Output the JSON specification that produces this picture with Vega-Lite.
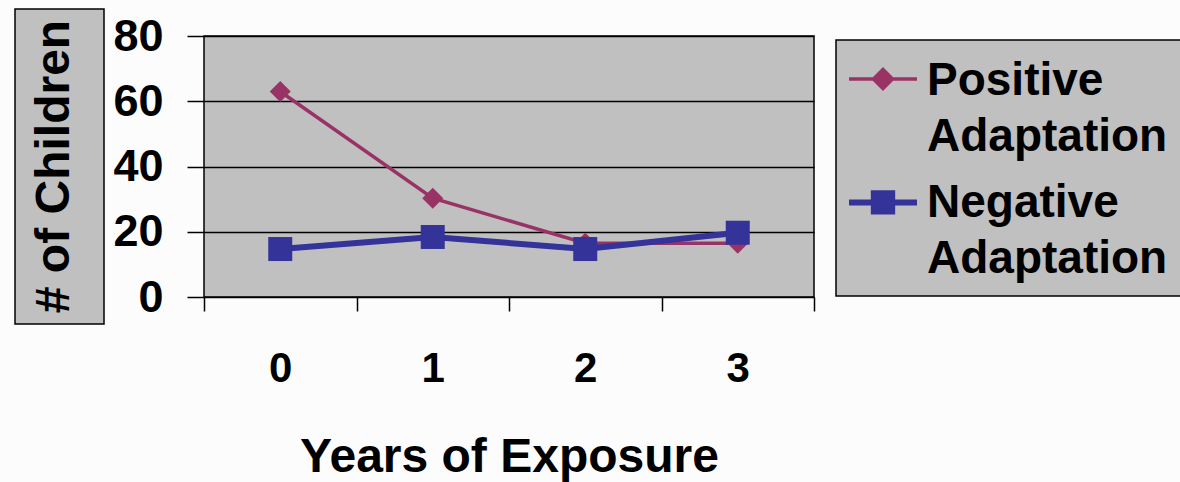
{
  "$schema": "https://vega.github.io/schema/vega-lite/v6.json",
  "background": "#fcfcfc",
  "padding": {"left": 14, "top": 8, "right": 0, "bottom": 0},
  "bounds": "flush",
  "center": true,
  "spacing": 100,
  "config": {"font": "Liberation Sans"},
  "resolve": {"legend": {"color": "independent"}},
  "hconcat": [
    {
      "width": 89,
      "height": 315,
      "view": {"fill": "#c0c0c0", "stroke": "black", "strokeWidth": 1.5},
      "data": {"values": [{"t": "# of Children"}]},
      "mark": {"type": "text", "angle": 270, "font": "Liberation Sans", "fontWeight": "bold", "fontSize": 48, "baseline": "middle", "align": "center", "color": "black", "dy": -5},
      "encoding": {"text": {"field": "t", "type": "nominal"}}
    },
    {
      "width": 610,
      "height": 261,
      "view": {"fill": "#c0c0c0", "stroke": "black", "strokeWidth": 1.5},
      "data": {"values": [
        {"year": 0, "n": 63, "series": "Positive Adaptation"},
        {"year": 1, "n": 30.3, "series": "Positive Adaptation"},
        {"year": 2, "n": 16.5, "series": "Positive Adaptation"},
        {"year": 3, "n": 16.5, "series": "Positive Adaptation"},
        {"year": 0, "n": 14.7, "series": "Negative Adaptation"},
        {"year": 1, "n": 18.4, "series": "Negative Adaptation"},
        {"year": 2, "n": 14.7, "series": "Negative Adaptation"},
        {"year": 3, "n": 19.7, "series": "Negative Adaptation"}
      ]},
      "encoding": {
        "x": {
          "field": "year", "type": "quantitative",
          "scale": {"domain": [-0.5, 3.5], "nice": false, "zero": false},
          "axis": {
            "values": [-0.5, 0, 0.5, 1, 1.5, 2, 2.5, 3, 3.5],
            "domain": false, "grid": false,
            "ticks": true, "tickSize": 14, "tickColor": "black", "tickWidth": 1.5,
            "tickOpacity": {"condition": {"test": "datum.value % 1 == 0", "value": 0}, "value": 1},
            "labelExpr": "datum.value % 1 == 0 ? format(datum.value, 'd') : ''",
            "labelFont": "Liberation Sans", "labelFontWeight": "bold", "labelFontSize": 42, "labelColor": "black",
            "labelPadding": 37, "labelBaseline": "top", "labelOverlap": false, "labelFlush": false,
            "title": "Years of Exposure",
            "titleFont": "Liberation Sans", "titleFontWeight": "bold", "titleFontSize": 48, "titleColor": "black",
            "titlePadding": 44
          }
        },
        "y": {
          "field": "n", "type": "quantitative",
          "scale": {"domain": [0, 80], "nice": false},
          "axis": {
            "values": [0, 20, 40, 60, 80],
            "domain": false,
            "tickSize": 17, "tickColor": "black", "tickWidth": 1.5,
            "grid": true, "gridColor": "black", "gridWidth": 1.5, "gridOpacity": 1,
            "labelFont": "Liberation Sans", "labelFontWeight": "bold", "labelFontSize": 45, "labelColor": "black",
            "labelPadding": 24,
            "title": null
          }
        },
        "color": {
          "field": "series", "type": "nominal",
          "scale": {"domain": ["Positive Adaptation", "Negative Adaptation"], "range": ["#993366", "#333399"]},
          "legend": {
            "title": null,
            "orient": "none",
            "legendX": 632,
            "legendY": 4,
            "fillColor": "#c0c0c0",
            "strokeColor": "black",
            "padding": 14,
            "labelExpr": "split(datum.label, ' ')",
            "labelFont": "Liberation Sans", "labelFontWeight": "bold", "labelFontSize": 46, "labelColor": "black",
            "labelBaseline": "top",
            "labelLimit": 400,
            "labelOffset": 21,
            "symbolOffset": 10,
            "symbolSize": 4624,
            "symbolStrokeWidth": 3.5,
            "rowPadding": 16,
            "encode": {
              "legend": {"update": {"strokeWidth": {"value": 1.5}}},
              "labels": {"update": {
                "fontWeight": {"value": "bold"},
                "lineHeight": {"value": 56},
                "dy": {"value": -18}
              }},
              "symbols": {"update": {
                "shape": {"signal": "datum.value === 'Positive Adaptation' ? 'M-1,0.06L1,0.06M0,-0.22L0.28,0.06L0,0.34L-0.28,0.06Z' : 'M-1,0.1L1,0.1M-0.27,-0.17L0.27,-0.17L0.27,0.37L-0.27,0.37Z'"},
                "fill": {"scale": "color", "field": "value"},
                "stroke": {"scale": "color", "field": "value"},
                "strokeWidth": {"signal": "datum.value === 'Positive Adaptation' ? 3.5 : 6"},
                "opacity": {"value": 1}
              }}
            }
          }
        }
      },
      "layer": [
        {"transform": [{"filter": "datum.series === 'Positive Adaptation'"}], "mark": {"type": "line", "strokeWidth": 3.5}},
        {"transform": [{"filter": "datum.series === 'Positive Adaptation'"}], "mark": {"type": "point", "shape": "diamond", "filled": true, "size": 440, "opacity": 1}},
        {"transform": [{"filter": "datum.series === 'Negative Adaptation'"}], "mark": {"type": "line", "strokeWidth": 6}},
        {"transform": [{"filter": "datum.series === 'Negative Adaptation'"}], "mark": {"type": "point", "shape": "square", "filled": true, "size": 576, "opacity": 1}}
      ]
    }
  ]
}
